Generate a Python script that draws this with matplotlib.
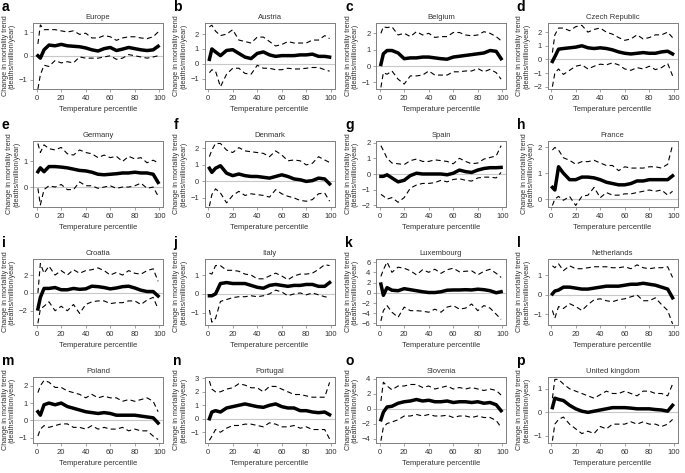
import matplotlib.pyplot as plt

plt.rcParams['font.family'] = ['Liberation Sans', 'DejaVu Sans']

# temperature percentiles at which the curves are read
pct = [1, 3, 6, 10, 15, 20, 25, 30, 35, 40, 45, 50, 55, 60, 65, 70, 75, 80, 85, 90, 95, 99]

letters = list('abcdefghijklmnop')
countries = ['Europe', 'Austria', 'Belgium', 'Czech Republic',
             'Germany', 'Denmark', 'Spain', 'France',
             'Croatia', 'Italy', 'Luxembourg', 'Netherlands',
             'Poland', 'Portugal', 'Slovenia', 'United kingdom']

# estimate, upper and lower bound for each country
mean_vals = [
    [0, -0.1, 0.25, 0.45, 0.42, 0.48, 0.42, 0.4, 0.38, 0.33, 0.25, 0.2, 0.3, 0.35, 0.22, 0.28, 0.35, 0.3, 0.25, 0.22, 0.25, 0.4],
    [0.3, 1.0, 0.8, 0.55, 0.9, 0.95, 0.7, 0.45, 0.35, 0.7, 0.8, 0.6, 0.5, 0.55, 0.55, 0.55, 0.6, 0.6, 0.65, 0.5, 0.5, 0.45],
    [0.1, 0.75, 0.95, 0.95, 0.8, 0.45, 0.5, 0.5, 0.55, 0.55, 0.5, 0.45, 0.42, 0.55, 0.6, 0.65, 0.7, 0.75, 0.8, 0.95, 0.9, 0.45],
    [-0.15, 0.2, 0.75, 0.8, 0.85, 0.9, 1.0, 0.85, 0.8, 0.85, 0.8, 0.7, 0.55, 0.45, 0.4, 0.45, 0.5, 0.45, 0.45, 0.55, 0.6, 0.4],
    [0.6, 0.75, 0.6, 0.8, 0.8, 0.78, 0.75, 0.7, 0.65, 0.63, 0.58, 0.5, 0.48, 0.5, 0.52, 0.55, 0.55, 0.58, 0.55, 0.55, 0.5, 0.18],
    [0.8, 0.55, 0.8, 0.95, 0.5, 0.35, 0.45, 0.35, 0.3, 0.3, 0.25, 0.2, 0.3, 0.4, 0.3, 0.15, 0.1, 0.0, 0.05, 0.2, 0.15, -0.15],
    [-0.15, -0.15, -0.05, -0.25, -0.5, -0.4, -0.1, 0.05, 0.0, 0.0, 0.0, 0.0, -0.05, 0.05, 0.25, 0.15, 0.1, 0.25, 0.35, 0.4, 0.4, 0.42],
    [0.45, 0.35, 1.25, 1.0, 0.75, 0.75, 0.85, 0.85, 0.82, 0.75, 0.65, 0.6, 0.55, 0.55, 0.6, 0.7, 0.7, 0.75, 0.75, 0.75, 0.75, 0.9],
    [-1.8, -0.5, 0.5, 0.5, 0.6, 0.35, 0.35, 0.5, 0.4, 0.45, 0.75, 0.7, 0.6, 0.45, 0.55, 0.7, 0.75, 0.55, 0.3, 0.15, 0.15, -0.35],
    [-0.1, -0.1, 0.0, 0.55, 0.6, 0.55, 0.55, 0.55, 0.45, 0.35, 0.3, 0.45, 0.5, 0.45, 0.4, 0.45, 0.45, 0.5, 0.5, 0.4, 0.4, 0.6],
    [1.7, -0.5, 1.0, 0.5, 0.4, 0.8, 0.6, 0.4, 0.2, 0.05, 0.05, 0.2, 0.5, 0.55, 0.55, 0.6, 0.55, 0.7, 0.6, 0.4, 0.0, 0.2],
    [0.05, 0.2, 0.25, 0.4, 0.4, 0.35, 0.3, 0.3, 0.35, 0.4, 0.45, 0.45, 0.45, 0.5, 0.55, 0.55, 0.6, 0.55, 0.5, 0.4, 0.3, -0.15],
    [0.5, 0.3, 0.9, 1.0, 0.9, 1.0, 0.8, 0.7, 0.6, 0.5, 0.45, 0.4, 0.45, 0.4, 0.3, 0.3, 0.3, 0.3, 0.25, 0.2, 0.15, -0.15],
    [0.0, 0.5, 0.6, 0.5, 0.8, 0.9, 1.0, 1.1, 1.0, 0.9, 0.85, 1.0, 1.1, 0.9, 0.8, 0.8, 0.6, 0.6, 0.5, 0.45, 0.5, 0.3],
    [-1.5, -0.5, 0.2, 0.3, 0.7, 0.9, 1.0, 1.2, 1.0, 1.1, 0.9, 0.9, 1.0, 0.8, 0.9, 0.9, 0.8, 0.9, 0.7, 0.8, 0.5, -0.3],
    [0.2, 0.6, 0.55, 0.5, 0.3, 0.15, 0.05, 0.0, 0.05, 0.1, 0.15, 0.2, 0.2, 0.2, 0.18, 0.15, 0.15, 0.15, 0.12, 0.1, 0.05, 0.3],
]
upper_vals = [
    [0.5, 1.3, 1.1, 1.1, 1.1, 1.05, 1.0, 1.05, 0.9, 0.95, 0.75, 0.75, 0.85, 0.8, 0.65, 0.75, 0.8, 0.8, 0.75, 0.72, 0.8, 1.0],
    [2.5, 2.6, 2.2, 1.9, 2.0, 2.3, 1.6, 1.5, 1.4, 1.8, 1.8, 1.5, 1.2, 1.3, 1.5, 1.4, 1.4, 1.4, 1.6, 1.6, 1.9, 1.7],
    [2.0, 2.4, 2.35, 2.4, 1.9, 2.0, 1.8, 2.1, 1.9, 2.0, 1.75, 1.8, 1.8, 2.05, 2.05, 1.9, 1.85, 1.9, 2.1, 2.0, 1.8, 1.55],
    [0.5, 1.8, 2.3, 2.3, 2.1, 2.4, 2.5, 2.0, 2.2, 2.3, 2.0, 1.85, 1.6, 1.4, 1.5, 1.8, 1.5, 1.6, 1.8, 1.8, 2.0, 1.6],
    [1.7, 1.35, 1.65, 1.5, 1.45, 1.55, 1.3, 1.25, 1.45, 1.35, 1.3, 1.15, 1.25, 1.15, 1.2, 1.0, 1.2, 1.1, 1.15, 0.95, 1.05, 0.95],
    [1.5, 1.9, 2.3, 2.3, 1.9, 1.75, 2.05, 1.85, 1.8, 1.75, 1.7, 1.5, 1.85, 1.6, 1.25, 1.3, 1.25, 1.0, 1.1, 1.5, 1.3, 1.15],
    [1.8, 1.5, 1.0, 0.7, 0.65, 0.6, 0.85, 0.95, 0.8, 0.8, 0.9, 0.85, 0.8, 0.65, 1.0, 0.8, 0.65, 0.7, 0.95, 1.05, 1.15, 1.8],
    [1.9, 2.0, 1.9, 1.6, 1.5, 1.35, 1.45, 1.45, 1.5, 1.4, 1.3, 1.3, 1.1, 1.25, 1.2, 1.2, 1.2, 1.25, 1.25, 1.2, 1.35, 2.1],
    [0.0, 3.3, 2.2, 3.0, 2.0, 2.5, 2.0, 2.6, 2.2, 2.5, 2.6, 2.8, 2.5, 2.0, 2.3, 2.0, 2.5, 2.2, 2.1, 2.5, 2.7, 1.3],
    [1.1, 1.05, 1.5, 1.5, 1.25, 1.25, 1.2, 1.05, 1.0, 0.8, 0.8, 0.95, 1.1, 0.95, 0.75, 0.95, 1.05, 1.05, 1.1, 1.3, 1.55, 1.5],
    [3.2, 4.5, 6.0, 4.0, 5.0, 4.8, 4.3, 3.5, 4.5, 4.0, 4.6, 3.8, 4.5, 4.8, 4.1, 4.2, 4.3, 3.5, 4.2, 4.6, 3.8, 3.0],
    [1.5, 1.4, 1.6, 1.25, 1.5, 1.35, 1.35, 1.4, 1.45, 1.45, 1.45, 1.4, 1.4, 1.45, 1.35, 1.55, 1.4, 1.35, 1.4, 1.4, 1.45, 0.9],
    [1.6, 2.0, 2.3, 2.2, 1.9, 1.9, 1.7, 1.6, 1.5, 1.3, 1.5, 1.3, 1.4, 1.3, 1.3, 1.1, 1.2, 1.1, 1.2, 1.3, 1.1, 0.5],
    [2.8, 2.2, 2.0, 2.0, 2.2, 2.3, 2.6, 2.5, 2.3, 2.3, 2.0, 2.4, 2.4, 2.2, 2.0, 1.8, 1.8, 1.7, 1.6, 1.6, 1.6, 2.7],
    [1.0, 3.5, 3.0, 2.5, 3.0, 3.0, 3.2, 3.2, 2.8, 3.0, 2.6, 2.8, 3.0, 2.6, 2.8, 2.6, 2.8, 2.6, 2.4, 2.6, 2.4, 1.8],
    [0.6, 1.4, 1.4, 1.2, 1.0, 0.9, 0.8, 0.7, 0.6, 0.75, 0.9, 0.8, 0.8, 0.9, 0.8, 0.7, 0.9, 0.9, 0.8, 0.8, 0.7, 1.2],
]
lower_vals = [
    [-1.4, -0.8, -0.4, -0.45, -0.2, -0.3, -0.25, -0.3, -0.05, -0.1, -0.1, -0.1, -0.05, 0.0, -0.15, -0.1, 0.05, 0.0, -0.05, -0.1, -0.05, 0.0],
    [-0.6, -0.4, -0.5, -1.55, -0.7, -0.3, -0.3, -0.65, -0.7, -0.1, -0.3, -0.3, -0.4, -0.4, -0.3, -0.35, -0.35, -0.3, -0.25, -0.25, -0.4, -0.5],
    [-1.3, -0.4, -0.5, -0.3, -0.8, -1.1, -0.6, -0.6, -0.55, -0.3, -0.55, -0.55, -0.55, -0.35, -0.35, -0.3, -0.3, -0.15, -0.35, -0.2, -0.4, -0.8],
    [-2.0, -1.0, -0.7, -1.1, -0.8, -0.5, -0.4, -0.7, -0.5, -0.35, -0.4, -0.25, -0.4, -0.7, -0.8, -0.6, -0.7, -0.5, -0.75, -0.6, -0.3, -1.2],
    [-0.05, -0.7, -0.1, 0.05, 0.0, 0.1, -0.1, -0.1, 0.2, 0.05, 0.05, -0.05, 0.0, 0.05, -0.05, 0.0, 0.0, 0.05, 0.15, -0.05, 0.0, -0.35],
    [-1.5, -0.8, -0.45, -0.7, -1.3, -0.85, -0.6, -0.85, -0.75, -0.8, -0.85, -0.95, -0.5, -0.75, -0.9, -1.0, -1.15, -1.2, -1.1, -0.75, -0.7, -1.2],
    [-1.3, -1.4, -1.6, -1.5, -1.8, -1.5, -0.9, -0.7, -0.6, -0.6, -0.55, -0.4, -0.5, -0.35, -0.3, -0.4, -0.45, -0.25, -0.2, -0.2, -0.25, 0.1],
    [-0.25, 0.0, 0.1, -0.05, 0.1, -0.25, 0.1, 0.15, 0.45, 0.05, 0.25, 0.15, 0.15, 0.2, 0.2, 0.25, 0.3, 0.35, 0.3, 0.35, 0.15, 0.3],
    [-3.4, -1.8, -1.5, -1.0, -2.0, -1.5, -2.0, -1.3, -2.3, -1.3, -1.0, -0.9, -0.9, -1.2, -1.1, -1.1, -0.9, -0.9, -1.3, -0.8, -0.5, -1.8],
    [-0.85, -1.5, -1.3, -0.4, -0.3, -0.2, -0.15, -0.15, -0.1, -0.15, -0.1, 0.0, 0.2, 0.1, -0.1, 0.0, 0.05, -0.05, 0.05, -0.05, -0.15, -0.2],
    [-5.5, -3.5, -2.5, -3.8, -4.8, -2.8, -3.5, -3.5, -3.6, -3.8, -3.2, -3.8, -2.8, -2.5, -3.2, -3.0, -2.2, -3.5, -2.5, -3.0, -4.2, -5.2],
    [-0.8, -1.2, -0.6, -0.7, -0.45, -0.6, -0.8, -0.5, -0.25, -0.2, -0.3, -0.35, -0.25, -0.2, -0.1, 0.0, -0.3, -0.3, -0.15, -0.5, -0.8, -1.5],
    [-0.9, -0.5, -0.3, -0.4, -0.3, -0.2, -0.2, -0.4, -0.4, -0.5, -0.3, -0.5, -0.4, -0.5, -0.5, -0.4, -0.6, -0.5, -0.6, -0.6, -0.9, -1.1],
    [-1.6, -1.3, -0.8, -1.0, -0.7, -0.5, -0.5, -0.4, -0.4, -0.5, -0.6, -0.3, -0.4, -0.6, -0.6, -0.5, -0.7, -0.6, -0.8, -0.8, -0.8, -1.5],
    [-4.3, -2.5, -2.0, -1.8, -1.5, -1.0, -1.0, -0.8, -1.0, -0.8, -1.0, -1.0, -0.9, -1.2, -1.0, -1.0, -1.2, -1.0, -1.2, -1.2, -1.6, -2.5],
    [-1.2, -0.5, -0.3, -0.2, -0.5, -0.7, -0.9, -0.8, -0.9, -0.6, -0.7, -0.5, -0.5, -0.5, -0.4, -0.5, -0.4, -0.5, -0.5, -0.6, -0.5, -0.3],
]

# y range and ticks per panel
y_limits = [(-1.4, 1.38), (-1.7, 2.75), (-1.4, 2.63), (-2.17, 2.67),
            (-0.78, 1.8), (-1.55, 2.45), (-2.1, 2.1), (-0.31, 2.25),
            (-3.6, 3.8), (-1.65, 1.85), (-6.3, 6.6), (-1.55, 1.85),
            (-1.3, 2.5), (-1.8, 3.1), (-4.6, 4.2), (-1.3, 1.5)]
y_ticks = [[-1, 0, 1], [-1, 0, 1, 2], [-1, 0, 1, 2], [-2, -1, 0, 1, 2],
           [0, 1], [-1, 0, 1, 2], [-2, -1, 0, 1, 2], [0, 1, 2],
           [-2, 0, 2], [-1, 0, 1], [-6, -4, -2, 0, 2, 4, 6], [-1, 0, 1],
           [-1, 0, 1, 2], [-1, 0, 1, 2, 3], [-4, -2, 0, 2, 4], [-1, 0, 1]]

W, H = 685, 473
fig = plt.figure(figsize=(W / 100, H / 100), dpi=100)

grey = '#7f7f7f'
for i in range(16):
    r, c = divmod(i, 4)
    x0 = c * 171.5 + 33
    top = r * 118 + 23
    ax = fig.add_axes([x0 / W, 1 - (top + 66) / H, 130 / W, 66 / H])

    ax.axhline(0, color='#c8c8c8', lw=0.8, zorder=1)
    ax.plot(pct, upper_vals[i], color='black', lw=0.8, dashes=(4.5, 3), zorder=2)
    ax.plot(pct, lower_vals[i], color='black', lw=0.8, dashes=(4.5, 3), zorder=2)
    ax.plot(pct, mean_vals[i], color='black', lw=2.5, zorder=3)

    ax.set_xlim(-3, 103)
    ax.set_ylim(*y_limits[i])
    ax.set_xticks([0, 20, 40, 60, 80, 100])
    ax.set_yticks(y_ticks[i])
    ax.tick_params(labelsize=5.5, length=2, width=0.5, color=grey,
                   labelcolor='#333333', pad=2)
    for s in ax.spines.values():
        s.set_color(grey)
        s.set_linewidth(0.7)

    ax.set_title(countries[i], fontsize=5.5, color='#333333', pad=3)
    ax.set_xlabel('Temperature percentile', fontsize=5.5, color='#333333', labelpad=3)
    ax.set_ylabel('Change in mortality trend\n(deaths/million/year)',
                  fontsize=5.2, color='#333333', labelpad=2, linespacing=1.0)

    fig.text((c * 171.5 + 2) / W, 1 - (r * 118 + 0) / H, letters[i],
             fontsize=10, fontweight='bold', va='top', ha='left')

fig.savefig('out.png', dpi=100)
